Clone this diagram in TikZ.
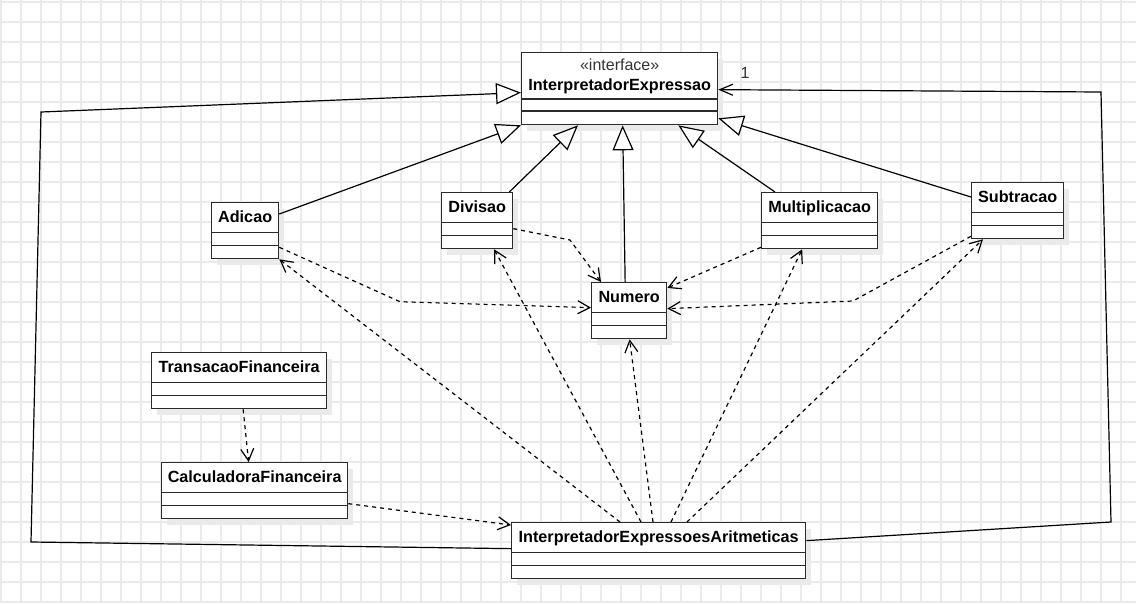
\documentclass[tikz,border=0pt]{standalone}
\usepackage{fontspec}
\setmainfont{Liberation Sans}
\usetikzlibrary{calc,arrows.meta}

\definecolor{gridc}{HTML}{EBEBEB}
\definecolor{shadowc}{HTML}{EAEAEA}
\definecolor{boxc}{HTML}{2B2B2B}
\definecolor{labelc}{HTML}{333333}

\tikzset{
  classbox/.style={draw=boxc, line width=1.3pt, fill=white, inner sep=0pt, anchor=north west},
  sepline/.style={draw=boxc, line width=1.3pt},
  classname/.style={font=\bfseries\fontsize{16.2}{18}\selectfont, anchor=base, inner sep=0pt},
  stereo/.style={font=\fontsize{16}{18}\selectfont, anchor=base, inner sep=0pt, text=labelc},
  inherit/.style={draw=black, line width=1.2pt, -{Triangle[open, length=25pt, width=21pt, fill=white]}},
  depend/.style={draw=black, line width=1.2pt, dash pattern=on 4pt off 4pt, -{Straight Barb[length=12pt, width=13pt]}},
  assoc/.style={draw=black, line width=1.2pt, -{Straight Barb[length=13pt, width=11pt]}},
}

% class box: id, left x, top y, width, name
\newcommand{\umlclass}[5]{%
  \fill[shadowc] ({#2+6},{#3+7}) rectangle ({#2+#4+6},{#3+63});
  \node[classbox, minimum width=#4pt, minimum height=56pt] (#1) at (#2,#3) {};
  \draw[sepline] ($(#1.north west)+(0,30.7)$) -- ($(#1.north east)+(0,30.7)$);
  \draw[sepline] ($(#1.north west)+(0,43.7)$) -- ($(#1.north east)+(0,43.7)$);
  \node[classname] (#1-name) at ($(#1.north)+(0,20.7)$) {#5};
}

\begin{document}
\begin{tikzpicture}[x=1pt, y=-1pt]
  \useasboundingbox (0,0) rectangle (1136,603);
  \fill[white] (0,0) rectangle (1136,603);

  % background grid
  \foreach \gx in {1,21,...,1136} \draw[gridc, line width=1.3pt] (\gx,0) -- (\gx,603);
  \foreach \gy in {2,22,...,603} \draw[gridc, line width=1.3pt] (0,\gy) -- (1136,\gy);

  % interface
  \fill[shadowc] (527,59) rectangle (723,131);
  \node[classbox, minimum width=196pt, minimum height=72pt] (ie) at (521,52) {};
  \draw[sepline] ($(ie.north west)+(0,47)$) -- ($(ie.north east)+(0,47)$);
  \draw[sepline] ($(ie.north west)+(0,59)$) -- ($(ie.north east)+(0,59)$);
  \node[stereo] (ie-stereo) at ($(ie.north)+(0,18.7)$) {«interface»};
  \node[classname] (ie-name) at ($(ie.north)+(0,38)$) {InterpretadorExpressao};

  % classes
  \umlclass{adicao}{211}{202}{67}{Adicao}
  \umlclass{divisao}{441}{192}{71}{Divisao}
  \umlclass{mult}{761}{192}{116}{Multiplicacao}
  \umlclass{subtr}{971}{182}{92}{Subtracao}
  \umlclass{numero}{591}{282}{75}{Numero}
  \umlclass{transacao}{151}{352}{175}{TransacaoFinanceira}
  \umlclass{calc}{161}{462}{186}{CalculadoraFinanceira}
  \umlclass{iea}{511}{522}{294}{InterpretadorExpressoesAritmeticas}

  % realizations of the interface
  \draw[inherit] ($(adicao.north east)+(0,12)$) -- (ie.south west);
  \draw[inherit] ($(divisao.north east)+(-4,0)$) -- ($(ie.south west)+(57,0)$);
  \draw[inherit] ($(numero.north)+(-4,0)$) -- ($(ie.south)+(3,0)$);
  \draw[inherit] ($(mult.north west)+(14,0)$) -- ($(ie.south east)+(-40,0)$);
  \draw[inherit] ($(subtr.north west)+(0,15)$) -- ($(ie.south east)+(0,-7)$);
  \draw[inherit] ($(iea.west)+(0,-2)$) -- (31,542) -- (41,112) -- ($(ie.west)+(0,4)$);

  % association back to the interface
  \draw[assoc] ($(iea.east)+(0,-10)$) -- (1111,522) -- (1101,92) -- ($(ie.east)+(0,1)$);
  \node[stereo, anchor=center] (mult-one) at (745,73) {1};

  % dependencies on Numero
  \draw[depend] ($(adicao.south east)+(0,-12)$) -- (400,301.7) -- ($(numero.west)+(0,-3)$);
  \draw[depend] ($(divisao.east)+(0,8)$) -- (570,240) -- ($(numero.north west)+(10,0)$);
  \draw[depend] ($(mult.south west)+(0,-2)$) -- ($(numero.north east)+(0,6)$);
  \draw[depend] ($(subtr.south west)+(0,-3)$) -- (853,301) -- ($(numero.east)+(0,-2)$);

  % financial classes
  \draw[depend] ($(transacao.south)+(4,0)$) -- ($(calc.north)+(-6,0)$);
  \draw[depend] ($(calc.east)+(0,13)$) -- ($(iea.north west)+(0,3)$);

  % dependencies of the arithmetic interpreter
  \draw[depend] ($(iea.north west)+(109,0)$) -- (adicao.south east);
  \draw[depend] ($(iea.north west)+(130,0)$) -- ($(divisao.south)+(17,0)$);
  \draw[depend] ($(iea.north west)+(142,0)$) -- ($(numero.south)+(0.5,0)$);
  \draw[depend] ($(iea.north west)+(160,0)$) -- ($(mult.south)+(-17.5,0)$);
  \draw[depend] ($(iea.north west)+(176,0)$) -- ($(subtr.south west)+(12,0)$);
\end{tikzpicture}
\end{document}
